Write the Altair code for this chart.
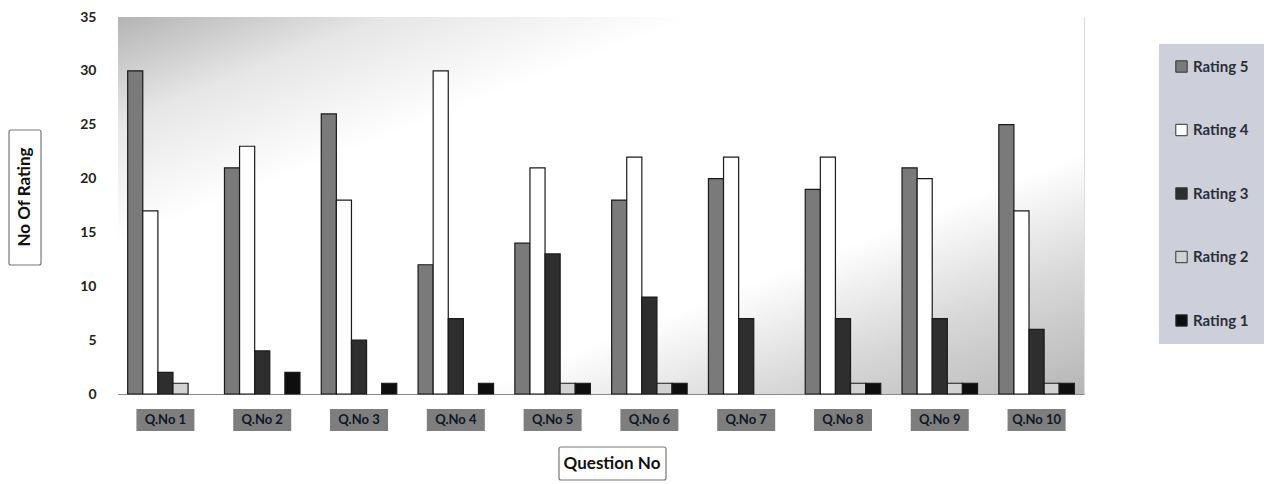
import altair as alt
import pandas as pd

questions = ["Q.No 1", "Q.No 2", "Q.No 3", "Q.No 4", "Q.No 5",
             "Q.No 6", "Q.No 7", "Q.No 8", "Q.No 9", "Q.No 10"]
ratings = ["Rating 5", "Rating 4", "Rating 3", "Rating 2", "Rating 1"]
rating5 = [30, 21, 26, 12, 14, 18, 20, 19, 21, 25]
rating4 = [17, 23, 18, 30, 21, 22, 22, 22, 20, 17]
rating3 = [2, 4, 5, 7, 13, 9, 7, 7, 7, 6]
rating2 = [1, 0, 0, 0, 1, 1, 0, 1, 1, 1]
rating1 = [0, 2, 1, 1, 1, 1, 0, 1, 1, 1]
colors = ["#7a7a7a", "#ffffff", "#2e2e2e", "#d2d2d2", "#0e0e0e"]

series = [rating5, rating4, rating3, rating2, rating1]
rows = []
for r, vals in zip(ratings, series):
    for q, v in zip(questions, vals):
        rows.append({"question": q, "rating": r, "value": v})
df = pd.DataFrame(rows)
qdf = pd.DataFrame({"question": questions})
one = pd.DataFrame({"a": [0]})

W, H = 966, 377
FONT = "Lato"

xenc = alt.X("question:N", sort=questions,
             scale=alt.Scale(paddingInner=0.22, paddingOuter=0.1),
             axis=alt.Axis(labels=False, ticks=False, title=None,
                           domainColor="#8a8a8a", grid=False))

bg = alt.Chart(one).mark_rect(
    fill=alt.Gradient(gradient="linear", x1=0, y1=0, x2=1, y2=1,
                      stops=[alt.GradientStop(offset=0, color="#b4b4b4"),
                             alt.GradientStop(offset=0.14, color="#e6e6e6"),
                             alt.GradientStop(offset=0.3, color="#ffffff"),
                             alt.GradientStop(offset=0.68, color="#ffffff"),
                             alt.GradientStop(offset=0.84, color="#d6d6d6"),
                             alt.GradientStop(offset=1, color="#b6b6b6")])
).encode(x=alt.value(0), x2=alt.value(W), y=alt.value(0), y2=alt.value(H))

bars = alt.Chart(df).transform_filter("datum.value > 0").mark_bar(
    stroke="#1a1a1a", strokeWidth=1.2
).encode(
    x=xenc,
    xOffset=alt.XOffset("rating:N", sort=ratings, scale=alt.Scale(paddingInner=0)),
    y=alt.Y("value:Q", scale=alt.Scale(domain=[0, 35]),
            axis=alt.Axis(values=[0, 5, 10, 15, 20, 25, 30, 35], title=None,
                          ticks=False, labelFont=FONT, labelFontWeight="bold",
                          labelFontSize=14, labelColor="#222", labelPadding=22,
                          domainColor="#8a8a8a", grid=True, gridColor="#ffffff",
                          gridOpacity=0.7)),
    color=alt.Color("rating:N", sort=ratings,
                    scale=alt.Scale(domain=ratings, range=colors),
                    legend=alt.Legend(orient="none", legendX=1041, legendY=27,
                                      title=None, fillColor="#cdd0da",
                                      padding=15, rowPadding=46.5,
                                      symbolType="square", symbolSize=130,
                                      symbolStrokeColor="#333", symbolStrokeWidth=1,
                                      labelFont=FONT, labelFontSize=15,
                                      labelFontWeight="bold", labelColor="#2a2e3a")),
)

lab_box = alt.Chart(qdf).mark_bar(width=58, color="#707070", opacity=0.9).encode(
    x=alt.X("question:N", sort=questions),
    y=alt.value(H + 15), y2=alt.value(H + 37))
lab_txt = alt.Chart(qdf).mark_text(font=FONT, fontWeight="bold", fontSize=13,
                                   color="#101626").encode(
    x=alt.X("question:N", sort=questions), y=alt.value(H + 26), text="question:N")

ytitle_box = alt.Chart(one).mark_rect(fill="#ffffff", stroke="#777", strokeWidth=1.2,
                                      cornerRadius=2).encode(
    x=alt.value(-109), x2=alt.value(-77), y=alt.value(113), y2=alt.value(248))
ytitle = alt.Chart(one).mark_text(text="No Of Rating", angle=270, font=FONT,
                                  fontWeight="bold", fontSize=17, color="#111").encode(
    x=alt.value(-93), y=alt.value(180))

xtitle_box = alt.Chart(one).mark_rect(fill="#ffffff", stroke="#777", strokeWidth=1.2,
                                      cornerRadius=2).encode(
    x=alt.value(441), x2=alt.value(548), y=alt.value(430), y2=alt.value(463))
xtitle = alt.Chart(one).mark_text(text="Question No", font=FONT,
                                  fontWeight="bold", fontSize=17, color="#111").encode(
    x=alt.value(494), y=alt.value(446.5))

chart = alt.layer(bg, bars, lab_box, lab_txt, ytitle_box, ytitle, xtitle_box, xtitle).properties(
    width=W, height=H,
    padding={"left": 0, "top": 2, "right": 0, "bottom": 0},
).configure_view(stroke=None).configure(background="#ffffff")

chart.save("out.html", embed_options={"renderer": "svg", "actions": False})
